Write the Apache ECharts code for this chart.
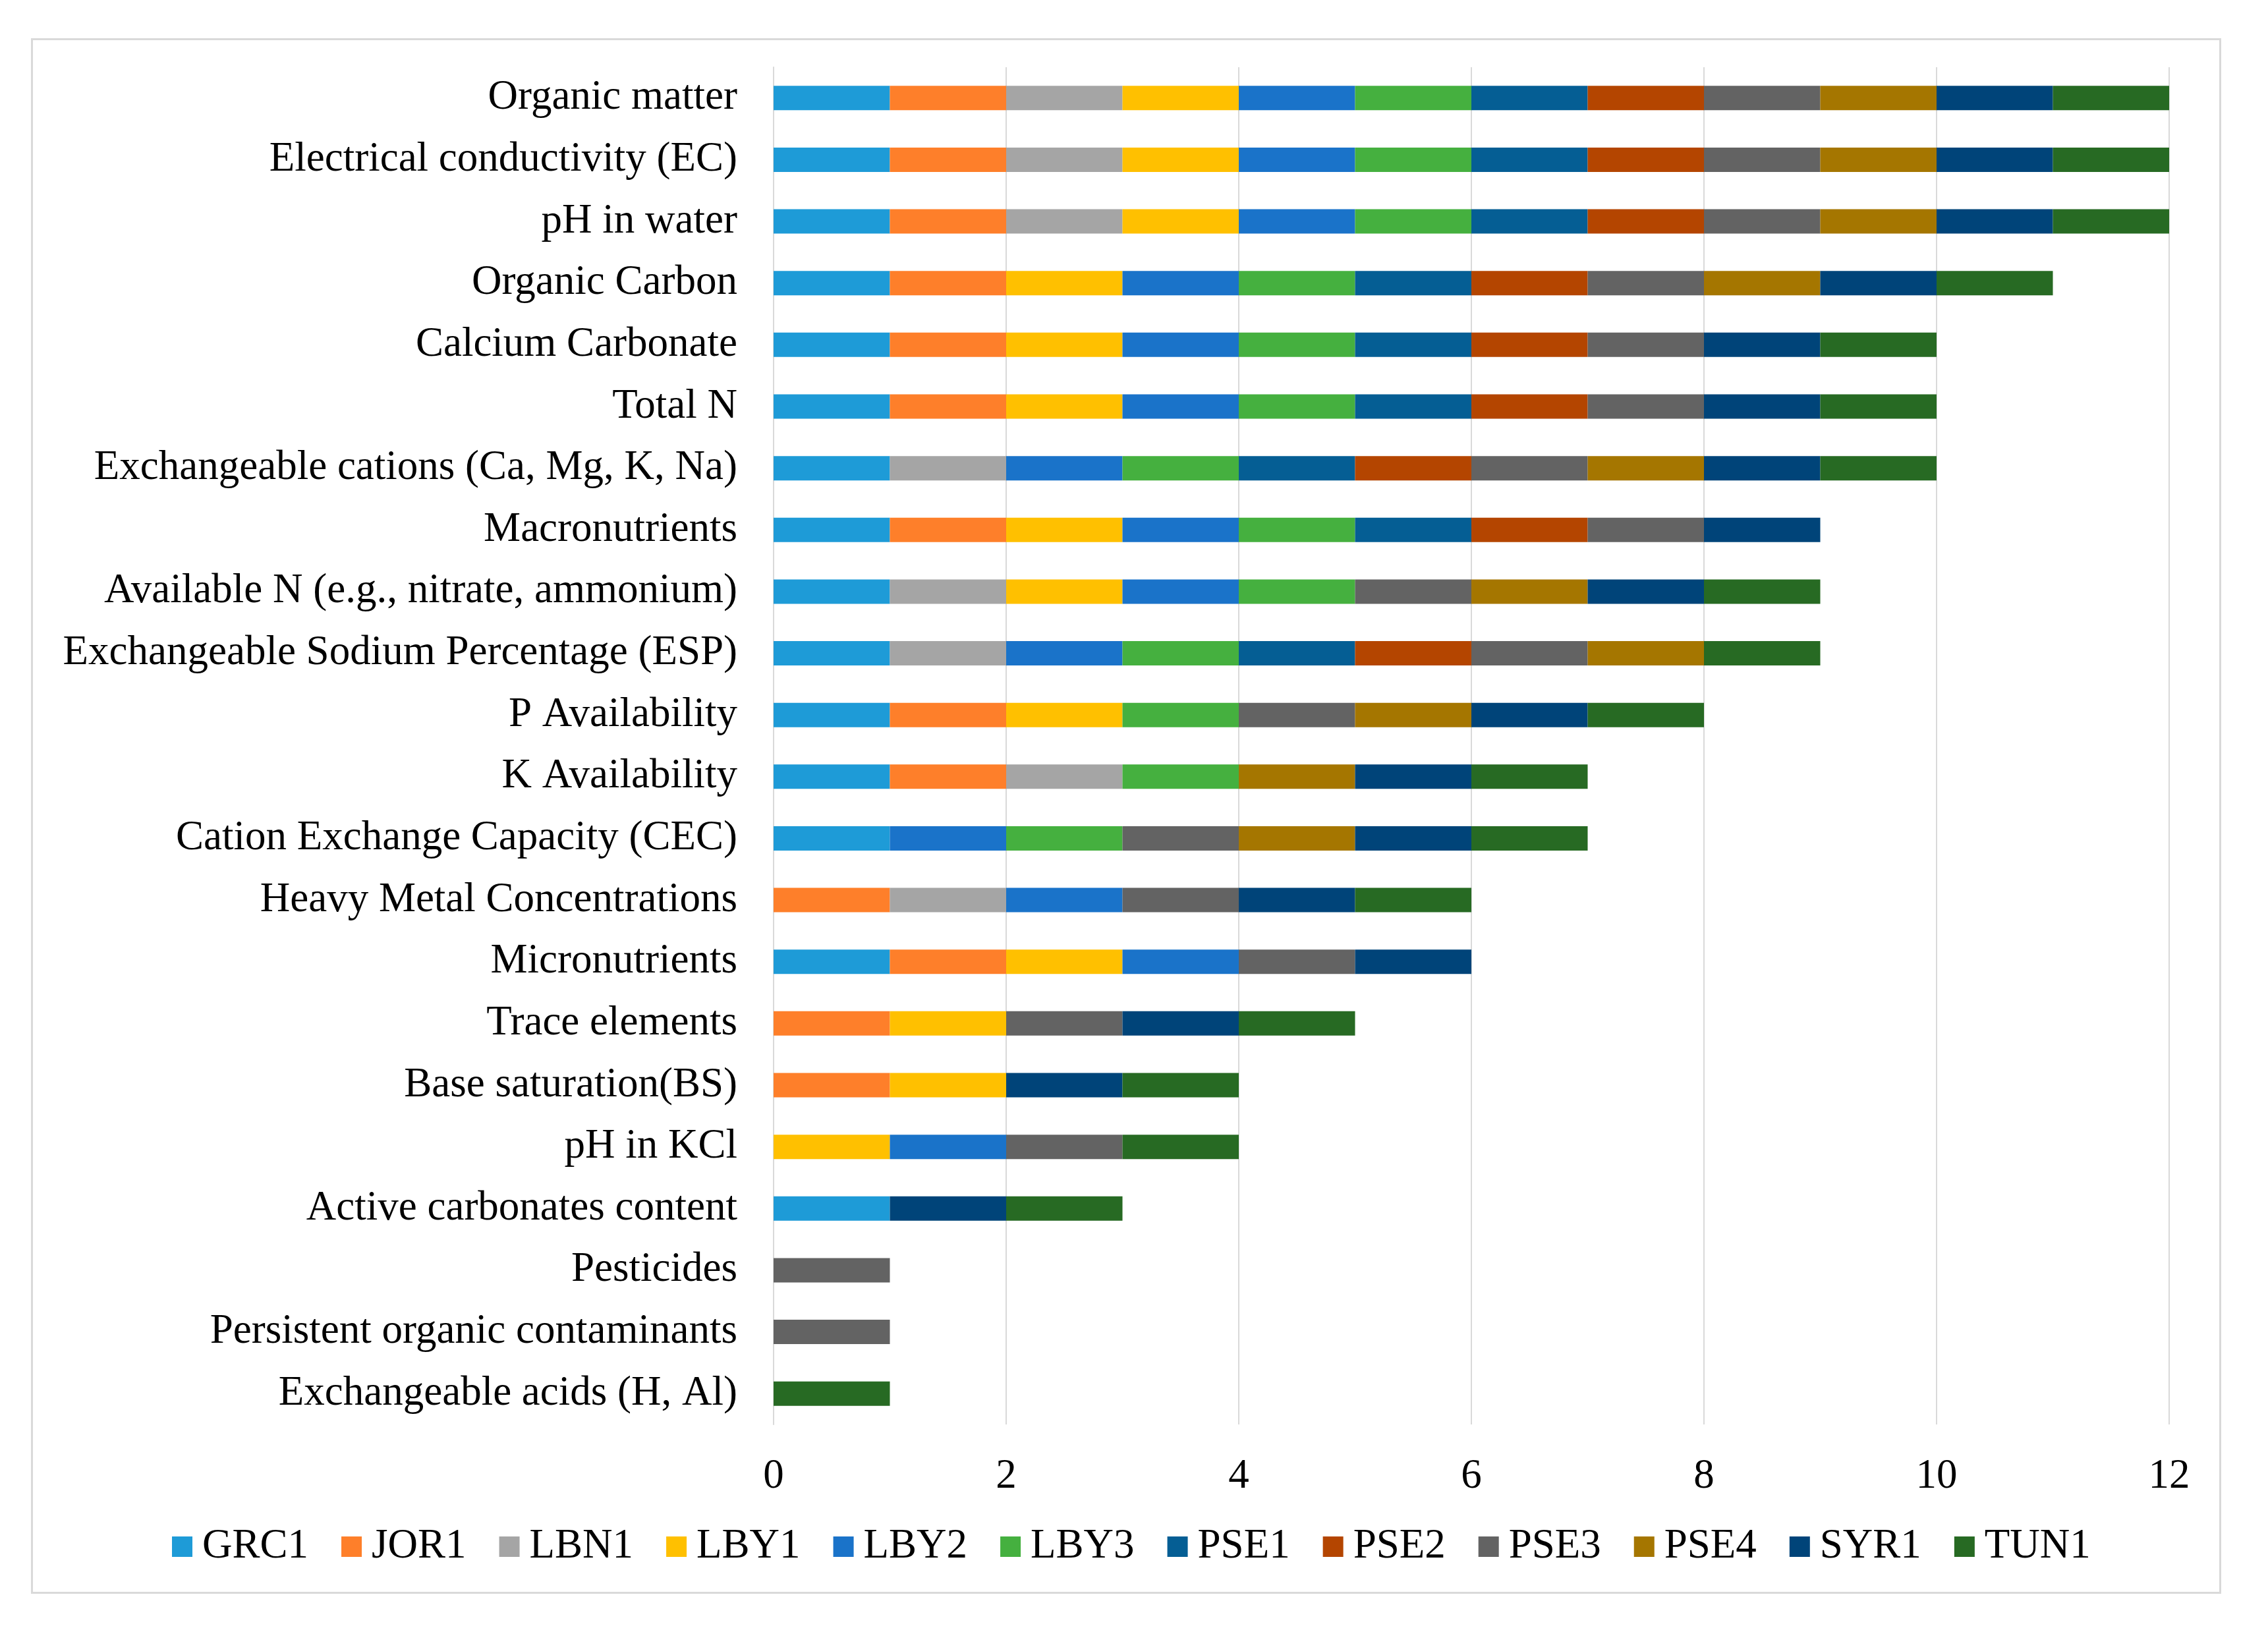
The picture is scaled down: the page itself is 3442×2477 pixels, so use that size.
<!DOCTYPE html>
<html>
<head>
<meta charset="utf-8">
<script src="https://cdn.jsdelivr.net/npm/echarts@6/dist/echarts.min.js"></script>
<style>
html,body{margin:0;padding:0;background:#fff;}
#chart{width:3442px;height:2477px;}
</style>
</head>
<body>
<div id="chart"></div>
<script>
var categories = [
  "Organic matter",
  "Electrical conductivity (EC)",
  "pH in water",
  "Organic Carbon",
  "Calcium Carbonate",
  "Total N",
  "Exchangeable cations (Ca, Mg, K, Na)",
  "Macronutrients",
  "Available N (e.g., nitrate, ammonium)",
  "Exchangeable Sodium Percentage (ESP)",
  "P Availability",
  "K Availability",
  "Cation Exchange Capacity (CEC)",
  "Heavy Metal Concentrations",
  "Micronutrients",
  "Trace elements",
  "Base saturation(BS)",
  "pH in KCl",
  "Active carbonates content",
  "Pesticides",
  "Persistent organic contaminants",
  "Exchangeable acids (H, Al)"
];
var seriesNames = ["GRC1","JOR1","LBN1","LBY1","LBY2","LBY3","PSE1","PSE2","PSE3","PSE4","SYR1","TUN1"];
var GRC1 = [1,1,1,1,1,1,1,1,1,1,1,1,1,0,1,0,0,0,1,0,0,0];
var JOR1 = [1,1,1,1,1,1,0,1,0,0,1,1,0,1,1,1,1,0,0,0,0,0];
var LBN1 = [1,1,1,0,0,0,1,0,1,1,0,1,0,1,0,0,0,0,0,0,0,0];
var LBY1 = [1,1,1,1,1,1,0,1,1,0,1,0,0,0,1,1,1,1,0,0,0,0];
var LBY2 = [1,1,1,1,1,1,1,1,1,1,0,0,1,1,1,0,0,1,0,0,0,0];
var LBY3 = [1,1,1,1,1,1,1,1,1,1,1,1,1,0,0,0,0,0,0,0,0,0];
var PSE1 = [1,1,1,1,1,1,1,1,0,1,0,0,0,0,0,0,0,0,0,0,0,0];
var PSE2 = [1,1,1,1,1,1,1,1,0,1,0,0,0,0,0,0,0,0,0,0,0,0];
var PSE3 = [1,1,1,1,1,1,1,1,1,1,1,0,1,1,1,1,0,1,0,1,1,0];
var PSE4 = [1,1,1,1,0,0,1,0,1,1,1,1,1,0,0,0,0,0,0,0,0,0];
var SYR1 = [1,1,1,1,1,1,1,1,1,0,1,1,1,1,1,1,1,0,1,0,0,0];
var TUN1 = [1,1,1,1,1,1,1,0,1,1,1,1,1,1,0,1,1,1,1,0,0,1];
var xTicks = [0,2,4,6,8,10,12];

var seriesData = [GRC1,JOR1,LBN1,LBY1,LBY2,LBY3,PSE1,PSE2,PSE3,PSE4,SYR1,TUN1];
var colors = ["#1E9BD7","#FE7F2A","#A5A5A5","#FFC000","#1A73C9","#45B03F","#055E94","#B44500","#636363","#A57600","#004479","#276A23"];
var FONT = "'Liberation Serif','Times New Roman',serif";

var chart = echarts.init(document.getElementById('chart'));
var series = seriesNames.map(function(n, i){
  return {
    name: n,
    type: 'bar',
    stack: 'total',
    barWidth: 37,
    data: seriesData[i],
    itemStyle: {color: colors[i]},
    emphasis: {disabled: true}
  };
});
chart.setOption({
  animation: false,
  color: colors,
  textStyle: {fontFamily: FONT},
  graphic: [{
    type: 'rect',
    left: 46, top: 57,
    shape: {width: 3321, height: 2358},
    style: {fill: 'none', stroke: '#d9d9d9', lineWidth: 3},
    silent: true
  }],
  grid: {left: 1174, top: 102, width: 2118, height: 2060, containLabel: false},
  xAxis: {
    type: 'value',
    min: xTicks[0],
    max: xTicks[xTicks.length - 1],
    interval: 2,
    axisLine: {show: false},
    axisTick: {show: false},
    splitLine: {show: true, lineStyle: {color: '#d9d9d9', width: 2}},
    axisLabel: {fontSize: 63, color: '#000', fontFamily: FONT, margin: 48}
  },
  yAxis: {
    type: 'category',
    data: categories,
    inverse: true,
    axisLine: {show: true, lineStyle: {color: '#d9d9d9', width: 2}},
    axisTick: {show: false},
    splitLine: {show: false},
    axisLabel: {fontSize: 63, color: '#000', fontFamily: FONT, margin: 55, padding: [6,0,0,0]}
  },
  legend: {
    data: seriesNames,
    left: 261,
    top: 2316,
    padding: 0,
    icon: 'rect',
    itemWidth: 31,
    itemHeight: 31,
    itemGap: 50,
    textStyle: {fontSize: 63, color: '#000', fontFamily: FONT, padding: [0,0,0,10]}
  },
  series: series
});
</script>
</body>
</html>
